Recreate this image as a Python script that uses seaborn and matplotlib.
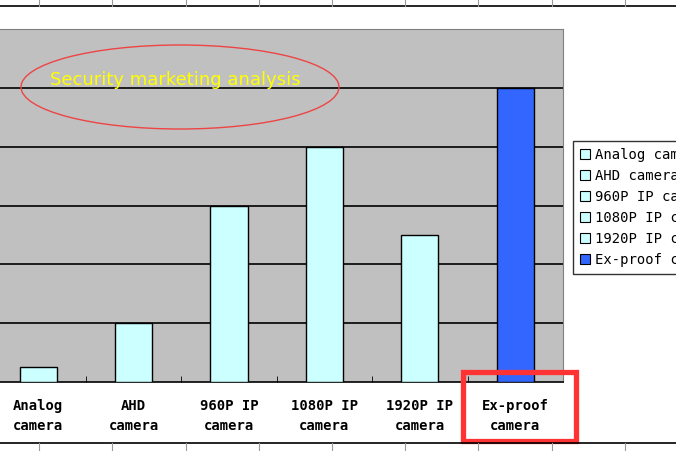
import matplotlib
matplotlib.use("Agg")
import matplotlib.pyplot as plt
import seaborn as sns
import pandas as pd
from matplotlib.patches import Ellipse, Rectangle
from matplotlib.lines import Line2D

categories = ["Analog camera", "AHD camera", "960P IP camera", "1080P IP camera", "1920P IP camera", "Ex-proof camera"]
tick_labels = ["Analog\ncamera", "AHD\ncamera", "960P IP\ncamera", "1080P IP\ncamera", "1920P IP\ncamera", "Ex-proof\ncamera"]
values = [0.25, 1, 3, 4, 2.5, 5]
colors = ["#CCFFFF"] * 5 + ["#3366FF"]

df = pd.DataFrame({"cat": categories, "val": values})
W, H = 676, 451
fig = plt.figure(figsize=(W / 100, H / 100), dpi=100)
ax = fig.add_axes([-9.5 / W, (H - 382) / H, (563 + 9.5) / W, (382 - 29) / H])
ax.set_facecolor("#C0C0C0")
sns.barplot(data=df, x="cat", y="val", hue="cat", palette=colors, dodge=False, saturation=1,
            width=0.39, edgecolor="black", linewidth=1, ax=ax, legend=False, zorder=3)
ax.set_ylim(0, 6)
ax.set_xlim(-0.5, 5.5)
ax.set_yticks([1, 2, 3, 4, 5])
ax.yaxis.grid(True, color="black", linewidth=1.2, zorder=1)
ax.set_axisbelow(True)
ax.tick_params(axis="y", left=False, labelleft=False)
ax.set_xticks([0.5, 1.5, 2.5, 3.5, 4.5], minor=True)
ax.tick_params(axis="x", which="major", length=0, pad=12)
ax.tick_params(axis="x", which="minor", direction="in", length=4, color="black")
ax.set_xticks(range(6))
ax.set_xticklabels(tick_labels, fontfamily="DejaVu Sans Mono", fontweight="bold", fontsize=10, linespacing=1.6)
ax.set_xlabel("")
ax.set_ylabel("")
for s in ["left", "top", "right"]:
    ax.spines[s].set_color("#808080")
ax.spines["bottom"].set_color("black")
ax.spines["bottom"].set_linewidth(1.2)

handles = [Rectangle((0, 0), 1, 1, facecolor=c, edgecolor="black", linewidth=0.8) for c in colors]
leg = fig.legend(handles, categories, loc="upper left", bbox_to_anchor=(573 / W, 1 - 141 / H),
                 prop={"family": "DejaVu Sans Mono", "size": 10}, frameon=True, fancybox=False,
                 handlelength=0.7, handleheight=0.7, handletextpad=0.4, labelspacing=0.5,
                 borderpad=0.5, borderaxespad=0)
leg.get_frame().set_edgecolor("black")
leg.get_frame().set_linewidth(1)

fig.patches.append(Ellipse((180 / W, 1 - 87 / H), 318 / W, 84 / H, transform=fig.transFigure,
                           fill=False, edgecolor="#EE4444", linewidth=1))
fig.text(50 / W, 1 - 80 / H, "Security marketing analysis", color="#FFFF00", fontsize=13,
         va="center", ha="left", fontfamily="DejaVu Sans")
fig.patches.append(Rectangle((463 / W, 1 - 441 / H), 113 / W, 69 / H, transform=fig.transFigure,
                             fill=False, edgecolor="#FF3333", linewidth=3.8))
fig.lines.append(Line2D([0, 1], [1 - 6 / H, 1 - 6 / H], transform=fig.transFigure, color="black", linewidth=1.2))
fig.lines.append(Line2D([0, 1], [1 - 443 / H, 1 - 443 / H], transform=fig.transFigure, color="black", linewidth=1.2))
for xp in [39, 112, 186, 259, 332, 405, 478, 552, 625]:
    fig.lines.append(Line2D([xp / W] * 2, [1 - 6 / H, 1], transform=fig.transFigure, color="#999999", linewidth=0.8))
    fig.lines.append(Line2D([xp / W] * 2, [0, 1 - 443 / H], transform=fig.transFigure, color="#999999", linewidth=0.8))

fig.savefig("out.png", dpi=100)
